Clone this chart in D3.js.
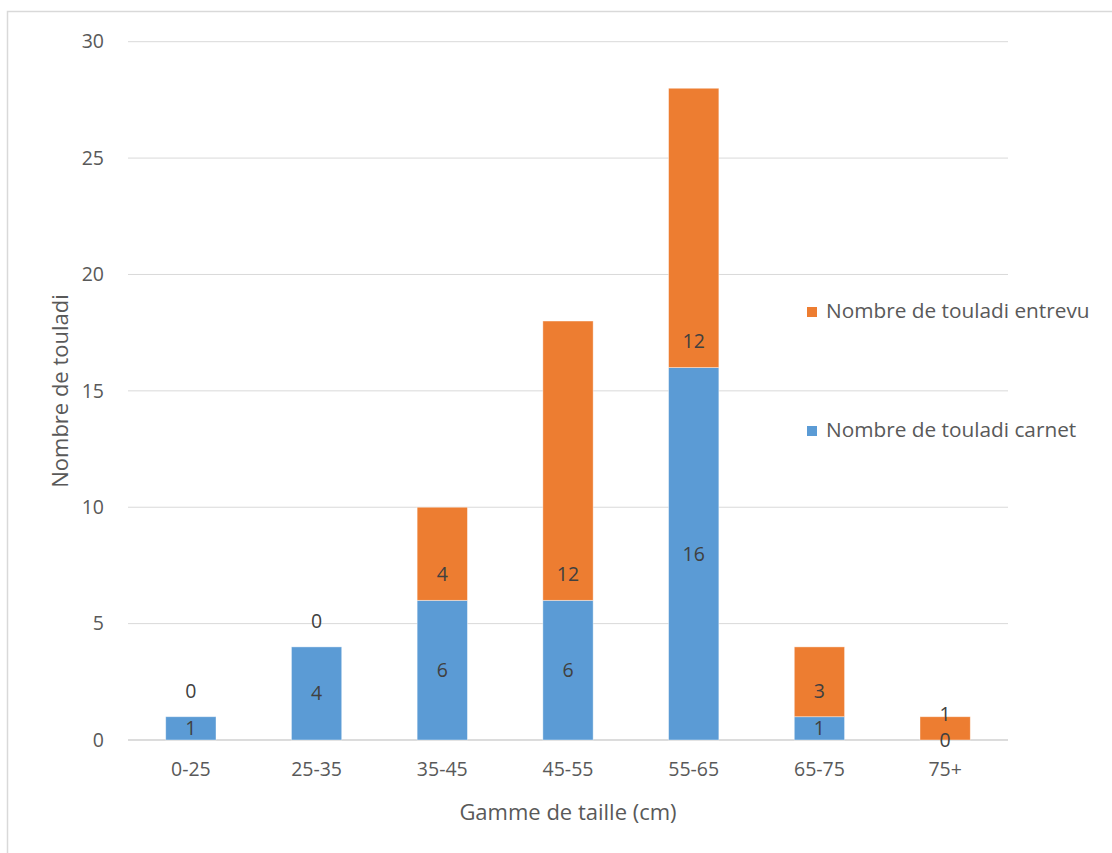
<!DOCTYPE html>
<html><head><meta charset="utf-8">
<script src="https://cdn.jsdelivr.net/npm/d3@7"></script>
<style>body{margin:0;background:#fff;} svg{display:block;}</style>
</head><body>
<svg id="c" width="1112" height="853"></svg>
<script>
const categories = ["0-25","25-35","35-45","45-55","55-65","65-75","75+"];
const carnet = [1,4,6,6,16,1,0];
const entrevu = [0,0,4,12,12,3,1];
const yTicks = [0,5,10,15,20,25,30];
const seriesNames = ["Nombre de touladi carnet","Nombre de touladi entrevu"];
const colors = ["#5B9BD5","#ED7D31"];

const svg = d3.select("#c");
const font = "'Open Sans', 'Liberation Sans', sans-serif";
const L = 128, R = 1008, T = 41.7, B = 740;

svg.append("rect").attr("x",7.5).attr("y",11.5).attr("width",1120).attr("height",860)
  .attr("fill","none").attr("stroke","#d9d9d9").attr("stroke-width",1.5);

const x = d3.scaleBand().domain(categories).range([L,R]).paddingInner(0.6).paddingOuter(0.3);
const y = d3.scaleLinear().domain([0,30]).range([B,T]);

// gridlines
svg.append("g").selectAll("line").data(yTicks).join("line")
  .attr("x1",L).attr("x2",R).attr("y1",d=>y(d)).attr("y2",d=>y(d))
  .attr("stroke",d=>d===0?"#d0d0d0":"#d9d9d9").attr("stroke-width",d=>d===0?1.5:1);

// y axis labels
const yAx = svg.append("g").attr("transform",`translate(${L-24},0)`)
  .call(d3.axisLeft(y).tickValues(yTicks).tickSize(0).tickPadding(0));
yAx.select(".domain").remove();
yAx.selectAll("text").attr("font-family",font).attr("font-size",19.5).attr("fill","#595959");

// x axis labels
const xAx = svg.append("g").attr("transform",`translate(0,${B+14})`)
  .call(d3.axisBottom(x).tickSize(0).tickPadding(8));
xAx.select(".domain").remove();
xAx.selectAll("text").attr("font-family",font).attr("font-size",19.5).attr("fill","#595959");

const data = categories.map((c,i)=>({cat:c, carnet:carnet[i], entrevu:entrevu[i]}));
const stack = d3.stack().keys(["carnet","entrevu"])(data);

stack.forEach((s,si)=>{
  svg.append("g").selectAll("rect").data(s).join("rect")
    .attr("x",d=>x(d.data.cat)).attr("width",x.bandwidth())
    .attr("y",d=>y(d[1])).attr("height",d=>y(d[0])-y(d[1]))
    .attr("fill",colors[si]).attr("stroke","#ffffff").attr("stroke-opacity",0.5).attr("stroke-width",0.8);
});

// data labels: carnet centered, entrevu at inside base
const labels = [];
data.forEach((d,i)=>{
  const cx = x(d.cat)+x.bandwidth()/2;
  const b0 = stack[0][i], b1 = stack[1][i];
  labels.push({x:cx, y:(y(b0[0])+y(b0[1]))/2, t:d.carnet});
  labels.push({x:cx, y:y(b1[0]) - 26, t:d.entrevu});
});
svg.append("g").selectAll("text").data(labels).join("text")
  .attr("x",d=>d.x).attr("y",d=>d.y).attr("dy","0.35em")
  .attr("text-anchor","middle").attr("font-family",font).attr("font-size",19.5)
  .attr("fill","#404040").text(d=>d.t);

// axis titles
svg.append("text").attr("x",(L+R)/2).attr("y",820).attr("text-anchor","middle")
  .attr("font-family",font).attr("font-size",22).attr("fill","#595959").text("Gamme de taille (cm)");
svg.append("text").attr("transform","translate(68,391) rotate(-90)").attr("text-anchor","middle")
  .attr("font-family",font).attr("font-size",22).attr("fill","#595959").text("Nombre de touladi");

// legend
const leg = [{n:seriesNames[1],c:colors[1],y:311},{n:seriesNames[0],c:colors[0],y:430}];
const lg = svg.append("g").selectAll("g").data(leg).join("g");
lg.append("rect").attr("x",807).attr("y",d=>d.y-4).attr("width",10).attr("height",10).attr("fill",d=>d.c);
lg.append("text").attr("x",826).attr("y",d=>d.y).attr("dy","0.35em")
  .attr("font-family",font).attr("font-size",20.8).attr("fill","#595959").text(d=>d.n);
</script>
</body></html>
